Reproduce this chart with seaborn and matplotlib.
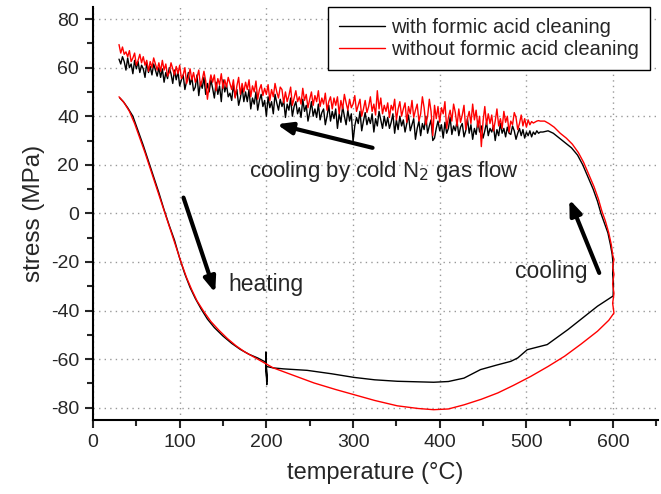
import numpy as np
import pandas as pd
import matplotlib
matplotlib.use("Agg")
import matplotlib.pyplot as plt
from matplotlib.lines import Line2D
import seaborn as sns

# ---- heating run (temperature in degC, stress in MPa) ----
heat_T_black = [31, 35, 40, 46, 52, 58, 64, 70, 76, 82, 88, 94, 100, 106, 112, 118,
                125, 132, 140, 150, 160, 170, 180, 190, 198, 200,
                199.5, 200.5, 199.5, 200.5, 199.5, 200.5, 200, 208, 220, 247, 275, 301, 325,
                351, 393, 410, 428, 447, 465, 482, 490, 501, 524, 548, 565, 582, 600]
heat_S_black = [47.5, 46, 43.5, 40, 34, 28, 21.5, 15, 8.5, 1.5, -5, -11, -18.5, -25, -30.5, -35,
                -39.5, -43.5, -47, -50.5, -53.5, -56, -58, -59.5, -61, -62,
                -57, -70, -58, -70.5, -59, -69, -63, -63.6, -64, -64.6, -66, -67.5, -68.5,
                -69.1, -69.5, -69.2, -67.8, -64.3, -62.5, -60.9, -59.5, -56.1, -54, -47.8, -43, -38.2, -34]

heat_T_red = [30, 36, 42, 48, 54, 60, 66, 72, 78, 84, 90, 96, 102, 108, 114, 120,
              128, 136, 145, 155, 165, 175, 185, 195, 208, 230, 255, 280, 301, 325,
              351, 375, 393, 410, 428, 448, 467, 485, 505, 525, 544, 563, 582, 595, 601]
heat_S_red = [48, 45.5, 42, 37, 31, 25, 18.5, 12, 5.5, -1, -7.5, -14, -20.5, -26.5, -31.5, -36,
              -40.5, -44.5, -48, -51.5, -54.5, -57, -59, -61, -63.6, -66.5, -69.8, -72.5, -74.6, -77,
              -79.2, -80.3, -80.8, -80.5, -78.8, -76.5, -73.9, -70.8, -67.1, -63, -58.8, -53.8, -48.5, -44, -41]

# ---- start of cooling at 600 degC ----
cool_T_black = [600, 600.5, 599.5, 600, 599, 597, 594, 590, 586, 582, 577, 571, 565, 559,
                552, 545, 538, 531, 525, 519]
cool_S_black = [-34, -29, -25, -21, -17, -13, -8, -4, 0, 5, 10, 15, 20, 24,
                27, 29, 31, 33, 34, 33.5]

cool_T_red = [601, 599.5, 601, 599.5, 601, 599.5, 601, 599.5, 598, 595, 591, 587, 583,
              578, 572, 566, 560, 553, 546, 539, 532, 526, 521]
cool_S_red = [-41, -37, -33, -29, -25, -22, -19, -17, -13, -8, -3, 1, 6,
              11, 16, 21, 25, 28.5, 31, 33, 35.5, 37, 38]

# ---- cooling by cold N2 gas flow: stress sampled every 2 degC from 516 down to 30 ----
gas_T = np.arange(516, 29, -2)
gas_S_black = [33.5, 33, 34, 32.5, 33.5, 31.5, 34, 32, 33.5, 31,
               34.5, 32, 35, 33, 30.5, 34, 36, 32.5, 33, 35.5,
               31.5, 35, 33, 37, 32, 34.5, 30, 36, 33.5, 35,
               32, 37.5, 34, 31, 36, 33.5, 38, 32.5, 35, 30.5,
               36.5, 33, 39, 34, 31.5, 37, 35.5, 32, 38, 34,
               36, 32.5, 39.5, 35, 33, 37.5, 31, 36.5, 34, 38,
               35, 31, 30, 38.5, 36, 33, 40, 34.5, 37, 32,
               38, 35, 30.5, 39, 36.5, 34, 40.5, 37, 33.5, 38.5,
               36, 40, 34.5, 38.5, 33, 41, 37.5, 35, 39.5, 36,
               40, 35, 38.5, 42, 36, 39, 33.5, 41, 37, 39.5,
               36.5, 41.5, 38, 34, 42, 37, 39.5, 36, 29.5, 41,
               38, 42.5, 36.5, 40, 44, 37.5, 41, 35, 43, 39,
               42, 38, 44.5, 40, 36.5, 43, 41.5, 38.5, 45, 39.5,
               43, 40, 46, 41.5, 38, 44.5, 42, 47, 39.5, 43.5,
               41, 46, 44, 40, 47.5, 42.5, 45, 39.5, 46.5, 44,
               47, 42.5, 45.5, 49, 41, 46, 43.5, 48, 40, 46.5,
               44, 49, 46.5, 42.5, 50, 45, 47.5, 43, 51, 46,
               50, 46, 52, 47.5, 44.5, 51, 48, 53, 46.5, 49.5,
               48, 53, 50, 55, 46, 52.5, 49, 54, 47.5, 51.5,
               55, 50, 53.5, 49, 56, 51.5, 54, 48.5, 57, 52,
               50.5, 56, 53, 58, 54.5, 51, 57, 55, 52.5, 58.5,
               55, 59, 53.5, 57.5, 60, 55.5, 58, 54, 59.5, 56,
               60, 56.5, 59, 61.5, 57, 60.5, 58, 62, 56, 59.5,
               61, 58, 62.5, 59.5, 63, 57.5, 61.5, 60, 64, 59,
               62.5, 64.5, 61.5, 63.5]
gas_S_red = [38, 38.2, 38, 37.6, 37.2, 37.8, 36.5, 38.5, 35.5, 39,
             36, 40.5, 37, 34.5, 39.5, 41.5, 36.5, 38, 33.5, 40,
             37.5, 42, 35, 39, 36, 43, 38, 34, 40.5, 37,
             41, 36.5, 44, 38, 27.5, 40, 35.5, 42.5, 38.5, 45,
             37, 42, 39, 34.5, 44.5, 40.5, 37.5, 43, 36, 41.5,
             45, 38, 42.5, 39.5, 35, 46, 41, 43.5, 37.5, 44,
             39, 44.5, 32, 42, 47, 40, 36.5, 43.5, 48, 41,
             38, 45, 42.5, 39.5, 46.5, 41, 44, 37.5, 45.5, 43,
             40, 46, 43, 38.5, 47, 42.5, 44.5, 39.5, 45.5, 42,
             44.5, 41, 47.5, 43, 50.5, 40.5, 45, 42, 48, 44,
             41.5, 46.5, 43, 40, 47, 44.5, 42, 48.5, 45, 43.5,
             47, 42.5, 45.5, 49, 43, 46.5, 41, 48, 44.5, 47.5,
             43, 48, 46, 42.5, 49.5, 45, 47.5, 44, 50.5, 46,
             48.5, 44.5, 50, 47, 43.5, 49, 46.5, 51.5, 45, 48,
             46, 50.5, 47.5, 44.5, 52, 48.5, 46, 50, 45.5, 51,
             52, 47.5, 50, 53.5, 48, 51, 46.5, 53, 49, 51.5,
             48.5, 53, 51, 47, 54.5, 50, 52.5, 48, 55, 51,
             54, 50, 53.5, 49, 56, 52.5, 47.5, 55, 51, 53.5,
             56, 52, 55, 51.5, 57.5, 53, 55.5, 50.5, 57, 54,
             57, 53, 47, 54.5, 58.5, 55, 52.5, 59, 56, 54,
             58, 55, 59.5, 56, 53.5, 60, 57, 55.5, 61, 57.5,
             60.5, 57, 59.5, 62, 58, 56.5, 61.5, 59, 63, 58.5,
             62, 59, 61.5, 64, 60, 62.5, 58.5, 63, 61, 64.5,
             62, 65.5, 63, 61, 66, 64, 62.5, 67, 64.5, 66.5,
             65.5, 68.5, 66, 69.5]

label_black = "with formic acid cleaning"
label_red = "without formic acid cleaning"

df = pd.concat([
    pd.DataFrame({"T": list(heat_T_black) + list(cool_T_black) + list(gas_T),
                  "S": heat_S_black + cool_S_black + gas_S_black,
                  "run": label_black}),
    pd.DataFrame({"T": list(heat_T_red) + list(cool_T_red) + list(gas_T),
                  "S": heat_S_red + cool_S_red + gas_S_red,
                  "run": label_red}),
], ignore_index=True)

sns.set_style("white")
plt.rcParams["font.family"] = ["Liberation Sans", "DejaVu Sans"]
plt.rcParams["axes.unicode_minus"] = False

fig = plt.figure(figsize=(6.61, 4.94), dpi=100)
ax = fig.add_axes([0.1407, 0.150, 0.855, 0.836])

sns.lineplot(data=df, x="T", y="S", hue="run", sort=False, estimator=None,
             palette={label_black: "black", label_red: "red"},
             linewidth=1.0, ax=ax, legend=False)

ax.set_xlim(0, 652)
ax.set_ylim(-85, 85)
ax.set_xticks(np.arange(0, 601, 100))
ax.set_yticks(np.arange(-80, 81, 20))
ax.set_xticks(np.arange(50, 651, 100), minor=True)
ax.set_yticks(np.arange(-70, 81, 20), minor=True)
ax.grid(True, which="major", color="#999999", linestyle=(0, (1, 3)), linewidth=1.0)
for s in ["top", "right"]:
    ax.spines[s].set_visible(False)
for s in ["left", "bottom"]:
    ax.spines[s].set_linewidth(1.5)
    ax.spines[s].set_color("black")
ax.tick_params(which="major", direction="out", length=6, width=1.5, labelsize=14,
               left=True, bottom=True, pad=4)
ax.tick_params(which="minor", direction="out", length=4, width=1.5, left=True, bottom=True)

ax.set_xlabel("temperature (°C)", fontsize=17, labelpad=8)
ax.set_ylabel("stress (MPa)", fontsize=17.5, labelpad=4)

# legend
handles = [Line2D([], [], color="black", lw=1.0), Line2D([], [], color="red", lw=1.0)]
leg = ax.legend(handles, [label_black, label_red], loc="upper right",
                bbox_to_anchor=(0.986, 1.0), fontsize=14.5, frameon=True, fancybox=False,
                edgecolor="black", framealpha=1, handlelength=2.3, handletextpad=0.3,
                borderpad=0.55, labelspacing=0.15, borderaxespad=0.0)
leg.get_frame().set_linewidth(1.0)

# annotations
arrow = dict(arrowstyle="-|>,head_length=0.9,head_width=0.35", color="black", lw=3,
             shrinkA=0, shrinkB=0)
ax.annotate("", xy=(212, 36.7), xytext=(322.5, 27), arrowprops=arrow)
ax.annotate("", xy=(141, -32.7), xytext=(104.4, 6.5), arrowprops=arrow)
ax.annotate("", xy=(549.5, 5.8), xytext=(584, -24.5), arrowprops=arrow)

ax.text(180, 17.3, "cooling by cold N$_2$ gas flow", fontsize=16, va="center", ha="left")
ax.text(156, -29.3, "heating", fontsize=16.5, va="center", ha="left")
ax.text(487, -24, "cooling", fontsize=16.5, va="center", ha="left")

fig.savefig("out.png", dpi=100)
